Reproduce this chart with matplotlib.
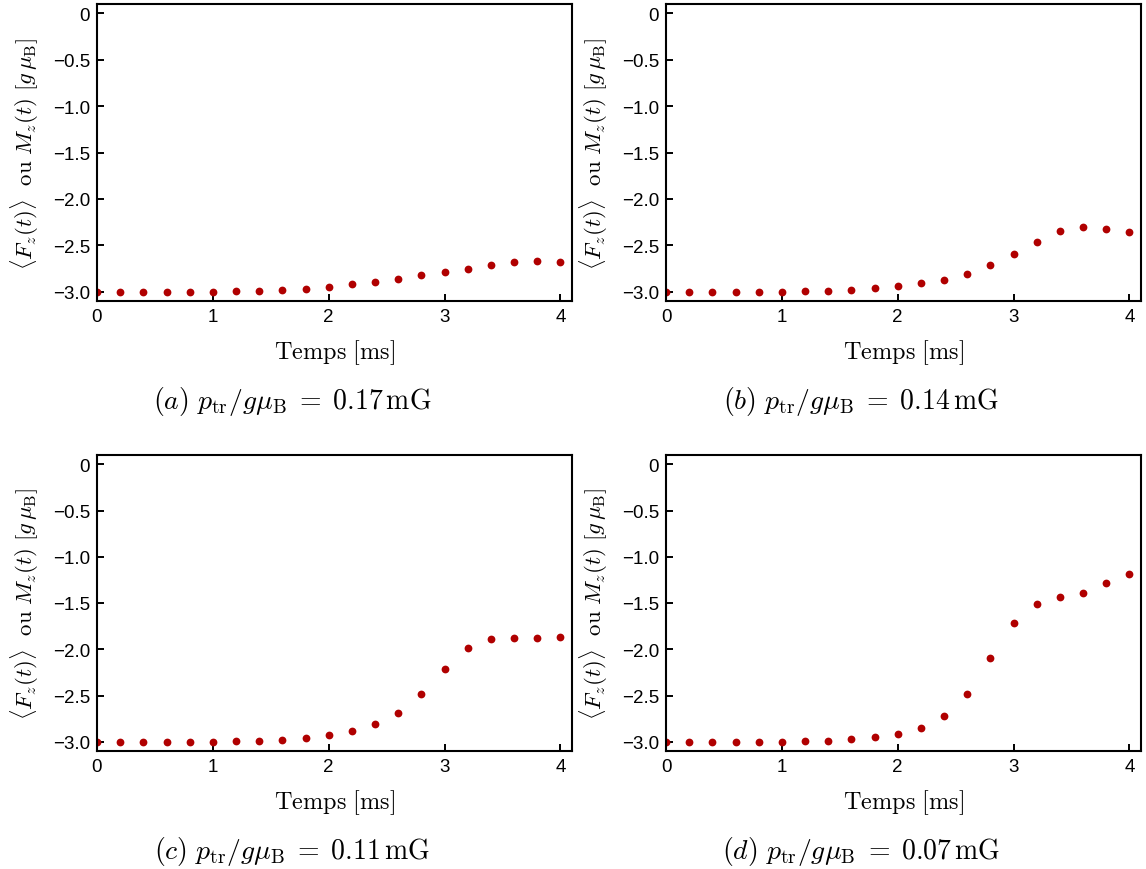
"""Four-panel plot of <F_z(t)> vs time for several p_tr values."""

import matplotlib
from matplotlib import pyplot as plt

matplotlib.use("Agg")

plt.rcParams["mathtext.fontset"] = "cm"
plt.rcParams["font.family"] = ["Liberation Sans", "DejaVu Sans"]

W, H = 1146, 870
DOT_COLOR = "#b00000"

# time grid [ms]
t = [0.0, 0.2, 0.4, 0.6, 0.8, 1.0, 1.2, 1.4, 1.6, 1.8, 2.0,
     2.2, 2.4, 2.6, 2.8, 3.0, 3.2, 3.4, 3.6, 3.8, 4.0]

fz_a = [-3.0, -3.0, -3.0, -3.0, -3.0, -3.0, -2.995, -2.99, -2.98, -2.97, -2.95,
        -2.92, -2.895, -2.86, -2.82, -2.79, -2.75, -2.71, -2.68, -2.67, -2.68]
fz_b = [-3.0, -3.0, -3.0, -3.0, -3.0, -3.0, -2.995, -2.99, -2.98, -2.965, -2.94,
        -2.91, -2.87, -2.805, -2.715, -2.595, -2.46, -2.35, -2.305, -2.32, -2.36]
fz_c = [-3.0, -3.0, -3.0, -3.0, -3.0, -3.0, -2.995, -2.99, -2.98, -2.96, -2.93,
        -2.885, -2.81, -2.69, -2.48, -2.21, -1.985, -1.89, -1.88, -1.88, -1.865]
fz_d = [-3.0, -3.0, -3.0, -3.0, -3.0, -3.0, -2.995, -2.99, -2.975, -2.95, -2.915,
        -2.85, -2.725, -2.485, -2.095, -1.715, -1.51, -1.44, -1.39, -1.28, -1.185]

panel_letters = ["a", "b", "c", "d"]
ptr_values = ["0.17", "0.14", "0.11", "0.07"]

yticks = [0, -0.5, -1.0, -1.5, -2.0, -2.5, -3.0]
ytick_labels = ["0", "\u22120.5", "\u22121.0", "\u22121.5", "\u22122.0", "\u22122.5", "\u22123.0"]
xticks = [0, 1, 2, 3, 4]

# axes boxes in pixels: left, top, right, bottom
boxes = [(97, 5, 572, 302), (666, 5, 1141, 302),
         (97, 456, 572, 752), (666, 456, 1141, 752)]

fig = plt.figure(figsize=(W / 100, H / 100), dpi=100)

for (l, tp, r, b), series, letter, ptr in zip(boxes, [fz_a, fz_b, fz_c, fz_d],
                                              panel_letters, ptr_values):
    ax = fig.add_axes([l / W, 1 - b / H, (r - l) / W, (b - tp) / H])
    ax.plot(t, series, "o", color=DOT_COLOR, markersize=5.6, markeredgewidth=0)
    ax.set_xlim(0, 4.1)
    ax.set_ylim(-3.1, 0.1)
    ax.set_xticks(xticks)
    ax.set_yticks(yticks)
    ax.set_yticklabels(ytick_labels)
    ax.tick_params(direction="in", length=5, width=1.4, labelsize=13.5,
                   top=False, right=False, pad=5)
    for sp in ax.spines.values():
        sp.set_linewidth(1.5)

    cx = (l + r) / 2 / W
    fig.text(cx, 1 - (b + 51) / H, r"$\mathrm{Temps\ [ms]}$",
             ha="center", va="center", fontsize=17.5)
    # caption is centred on the whole sub-figure, ylabel included
    fig.text((l - 85 + r) / 2 / W, 1 - (b + 100) / H,
             r"$\mathit{(%s)}\ p_\mathrm{tr}/g\mu_\mathrm{B}\;=\;%s\,\mathrm{mG}$" % (letter, ptr),
             ha="center", va="center", fontsize=20)
    fig.text((l - 72) / W, 1 - (tp + b) / 2 / H,
             r"$\langle F_z(t)\rangle\ \ \mathrm{ou}\ M_z(t)\ [g\,\mu_\mathrm{B}]$",
             ha="center", va="center", rotation=90, fontsize=16.5)

fig.savefig("out.png", dpi=100)
